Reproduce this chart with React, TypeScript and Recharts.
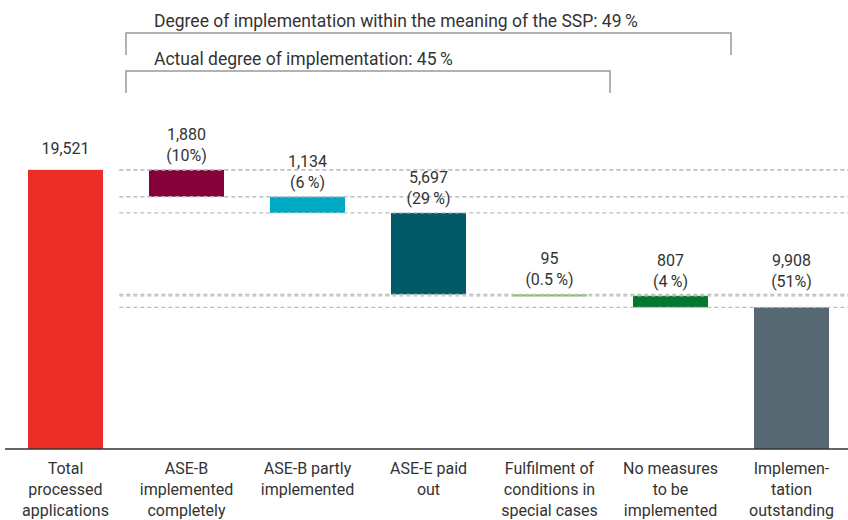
import React from "react";
import { BarChart, Bar, XAxis, YAxis, ReferenceLine, LabelList } from "recharts";

const categoryLines: string[][] = [
  ["Total", "processed", "applications"],
  ["ASE-B", "implemented", "completely"],
  ["ASE-B partly", "implemented"],
  ["ASE-E paid", "out"],
  ["Fulfilment of", "conditions in", "special cases"],
  ["No measures", "to be", "implemented"],
  ["Implemen-", "tation", "outstanding"],
];
const values: number[] = [19521, 1880, 1134, 5697, 95, 807, 9908];
const percents: string[] = ["", "(10%)", "(6\u2009%)", "(29\u2009%)", "(0.5\u2009%)", "(4\u2009%)", "(51%)"];
const colors: string[] = ["#ED2D28", "#86003A", "#00AAC5", "#005A68", "#7DC242", "#05772F", "#566872"];
const titleOuter = "Degree of implementation within the meaning of the SSP: 49\u2009%";
const titleInner = "Actual degree of implementation: 45\u2009%";

// waterfall bases
const bases: number[] = (() => {
  const out: number[] = [];
  let running = values[0];
  values.forEach((v, i) => {
    if (i === 0 || i === values.length - 1) {
      out.push(0);
    } else {
      running -= v;
      out.push(running);
    }
  });
  return out;
})();

const data = values.map((v, i) => ({
  name: categoryLines[i].join(" "),
  idx: i,
  base: bases[i],
  value: v,
}));

const stepLevels: number[] = data.slice(0, -1).map((d) => d.base + d.value).concat([values[values.length - 1]]);

const FONT = "Roboto, 'Noto Sans', sans-serif";
const TEXT = "#333333";
const W = 857;
const H = 520;
const ML = 5;
const MR = 5;
const N = values.length;
const BAND = (W - ML - MR) / N;
const BAR = 75;
const OFF = (BAND - BAR) / 2 / BAND;

const Tick = (props: any) => {
  const { x, y, payload } = props;
  const lines = categoryLines[payload.index] || [];
  return (
    <text x={x} y={y} textAnchor="middle" fill={TEXT} fontFamily={FONT} fontSize={16}>
      {lines.map((l, i) => (
        <tspan key={i} x={x} y={y + 17 + i * 21}>
          {l}
        </tspan>
      ))}
    </text>
  );
};

const ValueLabel = (props: any) => {
  const { x, y, width, height, index } = props;
  const cx = x + width / 2;
  const v = values[index];
  const pct = percents[index];
  let top = y;
  if (index === N - 1) {
    const ppu = height / v;
    const prevTop = bases[index - 1] + values[index - 1];
    top = y - (prevTop - v) * ppu;
  }
  if (!pct) {
    return (
      <text x={cx} y={top - 16} textAnchor="middle" fill={TEXT} fontFamily={FONT} fontSize={16}>
        {v.toLocaleString("en-US")}
      </text>
    );
  }
  return (
    <text textAnchor="middle" fill={TEXT} fontFamily={FONT} fontSize={16}>
      <tspan x={cx} y={top - 30}>{v.toLocaleString("en-US")}</tspan>
      <tspan x={cx} y={top - 9}>{pct}</tspan>
    </text>
  );
};

const Bracket = ({ x1, x2, y, h, label }: any) => (
  <g>
    <path d={`M${x1},${y + h} L${x1},${y} L${x2},${y} L${x2},${y + h}`} fill="none" stroke="#999" strokeWidth={1.5} />
    <text x={x1 + 28} y={y - 6} fill={TEXT} fontFamily={FONT} fontSize={17.5}>
      {label}
    </text>
  </g>
);

export default function App() {
  const bx = (k: number) => ML + k * BAND;
  return (
    <div style={{ position: "absolute", left: 0, top: 0, width: 848, height: 520, overflow: "hidden", background: "#fff" }}>
      <BarChart width={W} height={H} data={data} margin={{ top: 20, right: MR, left: ML, bottom: 0 }} barCategoryGap={0}>
        <XAxis
          xAxisId="cat"
          dataKey="name"
          height={71}
          interval={0}
          tickLine={false}
          axisLine={{ stroke: "#333", strokeWidth: 1.5 }}
          tick={<Tick />}
        />
        <XAxis xAxisId="num" type="number" domain={[0, N]} hide />
        <YAxis hide domain={[0, 30000]} />
        {stepLevels.map((lv, i) => (
          <ReferenceLine
            key={i}
            xAxisId="num"
            segment={[
              { x: 1 - OFF, y: lv },
              { x: N - OFF, y: lv },
            ]}
            stroke="#bdbdbd"
            strokeWidth={1.3}
            strokeDasharray="4 3"
            ifOverflow="visible"
          />
        ))}
        <Bar xAxisId="cat" dataKey="base" stackId="w" fill="transparent" barSize={BAR} isAnimationActive={false} />
        <Bar xAxisId="cat" dataKey="value" stackId="w" barSize={BAR} isAnimationActive={false}
          shape={(p: any) => <rect x={p.x} y={p.y} width={p.width} height={Math.max(p.height, 2)} fill={colors[p.index]} />}
        >
          <LabelList dataKey="value" content={<ValueLabel />} />
        </Bar>
      </BarChart>
      <svg width={848} height={520} style={{ position: "absolute", left: 0, top: 0, pointerEvents: "none" }}>
        <Bracket x1={bx(1)} x2={bx(6)} y={33} h={22} label={titleOuter} />
        <Bracket x1={bx(1)} x2={bx(5)} y={71} h={22} label={titleInner} />
      </svg>
    </div>
  );
}
